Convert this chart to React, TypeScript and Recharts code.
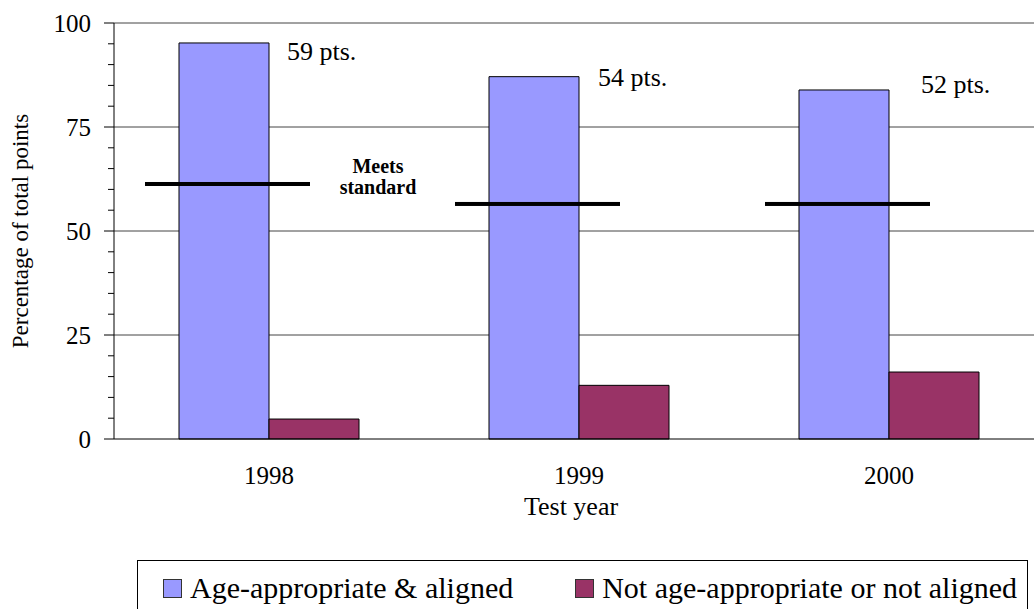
import { BarChart, Bar, XAxis, YAxis, CartesianGrid, LabelList } from 'recharts';

const FONT = "'Liberation Serif', 'DejaVu Serif', Times, serif";

// test years and share of total points per category
const years = ['1998', '1999', '2000'];
const alignedPct = [95.2, 87.1, 83.9];
const notAlignedPct = [4.8, 12.9, 16.1];
const standardPct = [61.3, 56.5, 56.5];
const alignedPoints = [59, 54, 52];

const yTicks = [0, 5, 10, 15, 20, 25, 30, 35, 40, 45, 50, 55, 60, 65, 70, 75, 80, 85, 90, 95, 100];
const gridValues = [25, 50, 75, 100];
const labeledTicks = [0, 25, 50, 75, 100];

// hand placement of the "pts." notes next to each bar top
const ptsNudgeX = [18, 19, 32];
const ptsNudgeY = [17, 9, 3];

const rows = years.map((year, i) => ({
  year,
  aligned: alignedPct[i],
  notAligned: notAlignedPct[i],
  standard: standardPct[i],
  pts: alignedPoints[i],
}));

const YTick = ({ x, y, payload }: any) => {
  const major = labeledTicks.includes(payload.value);
  return (
    <g>
      <line x1={x - (major ? 10 : 6)} x2={x} y1={y} y2={y} stroke="#000" strokeWidth={1} />
      {major && (
        <text x={x - 23} y={y} dy="0.35em" textAnchor="end" fontSize={25} fill="#000" style={{ fontFamily: FONT }}>
          {payload.value}
        </text>
      )}
    </g>
  );
};

const StandardMark = (props: any) => {
  const { x, y, width, index } = props;
  const left = x - 42;
  const cx = left + width + 68;
  return (
    <g>
      <rect x={left} y={y - 2} width={width} height={4} fill="#000" />
      {index === 0 && (
        <g style={{ fontFamily: FONT }} fontSize={20} fontWeight="bold" fill="#000">
          <text x={cx} y={y - 11} textAnchor="middle">Meets</text>
          <text x={cx} y={y + 10} textAnchor="middle">standard</text>
        </g>
      )}
    </g>
  );
};

const PtsLabel = (props: any) => {
  const { x, y, width, value, index } = props;
  return (
    <text
      x={x + width + ptsNudgeX[index]}
      y={y + ptsNudgeY[index]}
      fontSize={26}
      fill="#000"
      style={{ fontFamily: FONT }}
    >
      {value} pts.
    </text>
  );
};

const LegendSwatch = ({ color }: { color: string }) => (
  <span
    style={{
      display: 'inline-block',
      width: 19,
      height: 19,
      background: color,
      border: '1px solid #333',
      boxSizing: 'border-box',
      marginRight: 8,
    }}
  />
);

export default function App() {
  return (
    <div
      style={{
        position: 'absolute',
        left: 0,
        top: 0,
        width: 1034,
        height: 609,
        overflow: 'hidden',
        background: '#fff',
        fontFamily: FONT,
      }}
    >
      <BarChart
        width={1050}
        height={609}
        data={rows}
        margin={{ top: 23, right: 6, left: 0, bottom: 80 }}
        barCategoryGap={65}
        barGap={0}
        style={{ fontFamily: FONT }}
      >
        <CartesianGrid vertical={false} horizontalValues={gridValues} stroke="#444" strokeWidth={1} />
        <XAxis
          dataKey="year"
          height={90}
          tickLine={false}
          tickSize={0}
          tickMargin={27}
          axisLine={{ stroke: '#000', strokeWidth: 1 }}
          tick={{ fontSize: 25, fill: '#000', style: { fontFamily: FONT } }}
          label={{
            content: (p: any) => {
              const vb = p.viewBox;
              return (
                <text
                  x={vb.x + vb.width / 2 - 8}
                  y={515}
                  textAnchor="middle"
                  fontSize={26}
                  fill="#000"
                  style={{ fontFamily: FONT }}
                >
                  Test year
                </text>
              );
            },
          }}
        />
        <XAxis xAxisId="std" dataKey="year" hide />
        <YAxis
          width={114}
          domain={[0, 100]}
          ticks={yTicks}
          interval={0}
          tickLine={false}
          tickSize={0}
          tickMargin={0}
          axisLine={{ stroke: '#000', strokeWidth: 1 }}
          tick={<YTick />}
          label={{
            content: (p: any) => {
              const vb = p.viewBox;
              const cy = vb.y + vb.height / 2;
              return (
                <text
                  transform={`translate(20, ${cy}) rotate(-90)`}
                  textAnchor="middle"
                  dy="0.35em"
                  fontSize={23}
                  fill="#000"
                  style={{ fontFamily: FONT }}
                >
                  Percentage of total points
                </text>
              );
            },
          }}
        />
        <Bar dataKey="aligned" fill="#9999FF" stroke="#000" strokeWidth={1} isAnimationActive={false}>
          <LabelList dataKey="pts" content={<PtsLabel />} />
        </Bar>
        <Bar dataKey="notAligned" fill="#993366" stroke="#000" strokeWidth={1} isAnimationActive={false} />
        <Bar xAxisId="std" dataKey="standard" barSize={165} shape={<StandardMark />} isAnimationActive={false} />
      </BarChart>
      <div
        style={{
          position: 'absolute',
          left: 137,
          top: 560,
          width: 891,
          height: 60,
          border: '1px solid #000',
          boxSizing: 'border-box',
          display: 'flex',
          alignItems: 'center',
          paddingLeft: 25,
          paddingBottom: 4,
          fontSize: 30,
          color: '#000',
          whiteSpace: 'nowrap',
        }}
      >
        <LegendSwatch color="#9999FF" />
        <span style={{ marginRight: 62 }}>Age-appropriate &amp; aligned</span>
        <LegendSwatch color="#993366" />
        <span>Not age-appropriate or not aligned</span>
      </div>
    </div>
  );
}
